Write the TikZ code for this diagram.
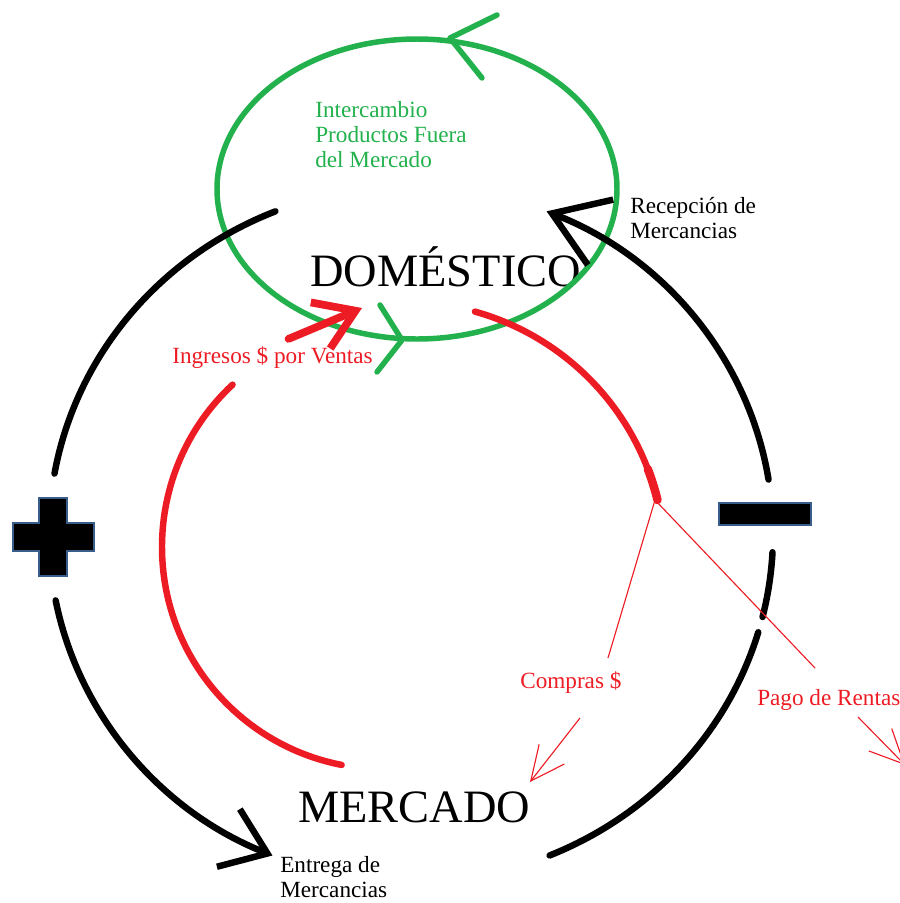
\documentclass[tikz,border=0pt]{standalone}
\usepackage{fontspec}
\setmainfont{Liberation Serif}
\usetikzlibrary{arrows.meta,calc}

\definecolor{Green}{HTML}{22B14C}
\definecolor{Red}{HTML}{ED1C24}
\definecolor{Edge}{HTML}{385D8A}

\tikzstyle{Note} = [inner sep=0pt,
                    align=left,
                    font=\fontsize{16.5}{17.8}\selectfont]
\tikzstyle{Title} = [inner sep=0pt,
                     font=\fontsize{33}{36}\selectfont]
\tikzstyle{Goods} = [line width=4.6pt, line cap=round]
\tikzstyle{Money} = [draw=Red, line width=4.6pt, line cap=round]
\tikzstyle{Thin} = [draw=Red, line width=0.8pt]
\tikzstyle{Swap} = [draw=Green, line width=3.9pt, line cap=round, line join=round]
\tikzstyle{Sign} = [fill=black, draw=Edge, line width=2pt]

\begin{document}
\begin{tikzpicture}[x=0.025cm, y=0.025cm, yscale=-1]
	\useasboundingbox (0,0) rectangle (900,903);

	% Centres of the loops
	\coordinate (outer) at (411, 534);
	\coordinate (redleft) at (384, 547);
	\coordinate (redright) at (405, 562);
	\coordinate (home) at (417, 189);

	% Text nodes
	\node(domestico) at (310, 286) [Title, anchor=base west]{DOMÉSTICO};
	\node(mercado) at (298, 822) [Title, anchor=base west]{MERCADO};
	\node(swap) at (315, 101) [Note, anchor=north west, text=Green]{Intercambio \\ Productos Fuera \\ del Mercado};
	\node(receive) at (630, 197) [Note, anchor=north west]{Recepción de \\ Mercancias};
	\node(deliver) at (280, 856) [Note, anchor=north west]{Entrega de \\ Mercancias};
	\node(sales) at (172, 363) [Note, anchor=base west, text=Red]{Ingresos \$ por Ventas};
	\node(buys) at (520, 688) [Note, anchor=base west, text=Red]{Compras \$};
	\node(rents) at (757, 705) [Note, anchor=base west, text=Red]{Pago de Rentas};

	% Green loop
	\draw [Swap] (home) ellipse [x radius=200, y radius=150];
	\draw [Swap] (497, 15) -- (450, 38) -- (482, 78);
	\draw [Swap] (380, 305) -- (402, 340) -- (377, 372);

	% Black loop
	\draw [Goods] (outer) ++(248:362 and 348) arc [start angle=248, end angle=190, x radius=362, y radius=348];
	\draw [Goods, -{Straight Barb[length=1.05cm, width=1.55cm]}] (outer) ++(169:362 and 348) arc [start angle=169, end angle=112.5, x radius=362, y radius=348];
	\draw [Goods] (outer) ++(67.5:362 and 348) arc [start angle=67.5, end angle=16.4, x radius=362, y radius=348];
	\draw [Goods] (outer) ++(13.8:362 and 348) arc [start angle=13.8, end angle=3, x radius=362, y radius=348];
	\draw [Goods, -{Straight Barb[length=1.3cm, width=1.75cm]}] (outer) ++(-9:362 and 348) arc [start angle=-9, end angle=-68, x radius=362, y radius=348];

	% Signs
	\draw [Sign] (39, 498) -- (67, 498) -- (67, 523) -- (94, 523) -- (94, 551) -- (67, 551) -- (67, 576) -- (39, 576) -- (39, 551) -- (13, 551) -- (13, 523) -- (39, 523) -- cycle;
	\draw [Sign] (719, 503) rectangle (811, 525);

	% Red loop
	\draw [Money] (redleft) ++(227:222) arc [start angle=227, end angle=101, radius=222];
	\draw [Money] (redright) ++(-74.4:260) arc [start angle=-74.4, end angle=-13.8, radius=260];
	\draw [Money, line width=6pt] (redright) ++(-21:260) arc [start angle=-21, end angle=-13.8, radius=260];
	\draw [Money, line width=5.5pt, -{Straight Barb[length=0.95cm, width=1.25cm]}] ($(sales.north)+(16,-7)$) -- ($(domestico.base west)+(52,22)$);

	% Lines
	\coordinate (split) at (655, 500);
	\draw [Thin] (split) -- ($(buys.base west)+(88,-30)$);
	\draw [Thin] (split) -- ($(rents.base west)+(58,-37)$);
	\draw [Thin, -{Straight Barb[length=0.85cm, width=0.8cm]}] ($(buys.base west)+(60,30)$) -- ($(mercado.base west)+(232,-40)$);
	\draw [Thin, -{Straight Barb[length=0.85cm, width=0.8cm]}] ($(rents.base west)+(101,12)$) -- ($(rents.base west)+(148,60)$);

\end{tikzpicture}
\end{document}
